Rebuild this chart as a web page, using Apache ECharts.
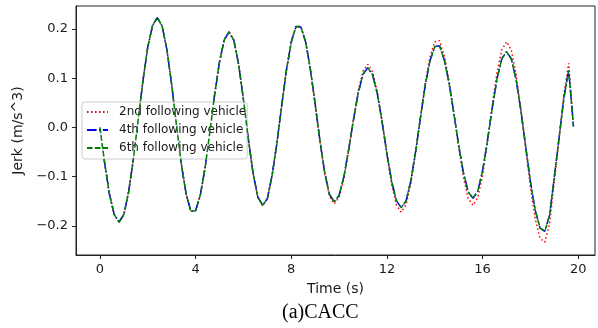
<!DOCTYPE html>
<html>
<head>
<meta charset="utf-8">
<script src="https://cdn.jsdelivr.net/npm/echarts@6/dist/echarts.min.js"></script>
<style>
html,body{margin:0;padding:0;background:#fff;}
#chart{width:598px;height:328px;}
</style>
</head>
<body>
<div id="chart"></div>
<script>
// Time samples (s)
var time = [
  0.0,0.2,0.4,0.6,0.8,1.0,1.2,1.4,1.6,1.8,
  2.0,2.2,2.4,2.6,2.8,3.0,3.2,3.4,3.6,3.8,
  4.0,4.2,4.4,4.6,4.8,5.0,5.2,5.4,5.6,5.8,
  6.0,6.2,6.4,6.6,6.8,7.0,7.2,7.4,7.6,7.8,
  8.0,8.2,8.4,8.6,8.8,9.0,9.2,9.4,9.6,9.8,
  10.0,10.2,10.4,10.6,10.8,11.0,11.2,11.4,11.6,11.8,
  12.0,12.2,12.4,12.6,12.8,13.0,13.2,13.4,13.6,13.8,
  14.0,14.2,14.4,14.6,14.8,15.0,15.2,15.4,15.6,15.8,
  16.0,16.2,16.4,16.6,16.8,17.0,17.2,17.4,17.6,17.8,
  18.0,18.2,18.4,18.6,18.8,19.0,19.2,19.4,19.6,19.8
];
// 2nd following vehicle jerk (m/s^3)
var jerk2 = [
  0.000,-0.073,-0.136,-0.177,-0.192,-0.177,-0.131,-0.064,0.016,0.095,
  0.163,0.207,0.223,0.206,0.158,0.087,0.005,-0.073,-0.134,-0.170,
  -0.169,-0.137,-0.081,-0.008,0.068,0.133,0.178,0.194,0.177,0.128,
  0.057,-0.021,-0.092,-0.141,-0.159,-0.145,-0.097,-0.032,0.044,0.117,
  0.174,0.206,0.205,0.175,0.118,0.047,-0.028,-0.095,-0.140,-0.155,
  -0.142,-0.104,-0.047,0.016,0.074,0.114,0.128,0.113,0.072,0.012,
  -0.056,-0.117,-0.158,-0.172,-0.157,-0.114,-0.052,0.020,0.090,0.143,
  0.174,0.176,0.145,0.094,0.030,-0.039,-0.101,-0.144,-0.158,-0.142,
  -0.098,-0.031,0.043,0.111,0.157,0.174,0.157,0.108,0.038,-0.042,
  -0.121,-0.185,-0.225,-0.233,-0.196,-0.110,-0.022,0.067,0.130,0.002
];
// 4th following vehicle jerk (m/s^3)
var jerk4 = [
  0.000,-0.073,-0.136,-0.177,-0.192,-0.177,-0.131,-0.064,0.016,0.095,
  0.163,0.207,0.223,0.206,0.158,0.087,0.005,-0.073,-0.134,-0.170,
  -0.169,-0.137,-0.081,-0.008,0.068,0.133,0.178,0.194,0.177,0.128,
  0.057,-0.021,-0.092,-0.141,-0.158,-0.145,-0.097,-0.032,0.044,0.117,
  0.173,0.205,0.204,0.174,0.118,0.047,-0.027,-0.092,-0.136,-0.151,
  -0.138,-0.100,-0.045,0.015,0.070,0.108,0.121,0.107,0.068,0.011,
  -0.053,-0.110,-0.149,-0.163,-0.149,-0.108,-0.049,0.019,0.085,0.135,
  0.164,0.166,0.137,0.089,0.028,-0.036,-0.092,-0.131,-0.144,-0.129,
  -0.088,-0.028,0.038,0.098,0.139,0.154,0.139,0.097,0.035,-0.038,
  -0.110,-0.168,-0.204,-0.211,-0.178,-0.100,-0.020,0.060,0.116,0.002
];
// 6th following vehicle jerk (m/s^3)
var jerk6 = [
  0.000,-0.073,-0.136,-0.177,-0.192,-0.177,-0.131,-0.064,0.016,0.095,
  0.163,0.207,0.223,0.206,0.158,0.087,0.005,-0.073,-0.134,-0.170,
  -0.169,-0.137,-0.081,-0.008,0.068,0.133,0.178,0.194,0.177,0.128,
  0.057,-0.021,-0.092,-0.141,-0.158,-0.145,-0.097,-0.032,0.044,0.117,
  0.173,0.205,0.204,0.174,0.118,0.047,-0.027,-0.092,-0.136,-0.151,
  -0.138,-0.100,-0.045,0.015,0.070,0.108,0.121,0.107,0.068,0.011,
  -0.053,-0.110,-0.149,-0.163,-0.149,-0.108,-0.049,0.019,0.085,0.135,
  0.164,0.166,0.137,0.089,0.028,-0.036,-0.092,-0.131,-0.144,-0.129,
  -0.088,-0.028,0.038,0.098,0.139,0.154,0.139,0.097,0.035,-0.038,
  -0.110,-0.168,-0.204,-0.211,-0.178,-0.100,-0.020,0.060,0.116,0.002
];
var seriesNames = ['2nd following vehicle','4th following vehicle','6th following vehicle'];
var xTicks = [0,4,8,12,16,20];
var yTicks = [-0.2,-0.1,0.0,0.1,0.2];
var xLabel = 'Time (s)';
var yLabel = 'Jerk (m/s^3)';
var caption = '(a)CACC';

function pairs(ys){ return time.map(function(t,i){ return [t, ys[i]]; }); }

var chart = echarts.init(document.getElementById('chart'), null, {renderer:'canvas'});
var font = 'DejaVu Sans';
chart.setOption({
  animation:false,
  backgroundColor:'#ffffff',
  grid:{left:76, right:3, top:6, bottom:73, show:true, borderColor:'#222', borderWidth:1, backgroundColor:'transparent'},
  xAxis:{
    type:'value', min:-1.0, max:20.7,
    name:xLabel, nameLocation:'middle', nameGap:27,
    nameTextStyle:{fontFamily:font, fontSize:14, color:'#1a1a1a'},
    axisLine:{show:true, onZero:false, lineStyle:{color:'#222', width:1}},
    axisTick:{show:true, length:4, customValues:xTicks, lineStyle:{color:'#222'}},
    axisLabel:{customValues:xTicks, margin:8, fontFamily:font, fontSize:13, color:'#1a1a1a',
      formatter:function(v){ return String(Math.round(v)); }},
    splitLine:{show:false}
  },
  yAxis:{
    type:'value', min:-0.259, max:0.2465,
    name:yLabel, nameLocation:'middle', nameGap:44,
    nameTextStyle:{fontFamily:font, fontSize:14, color:'#1a1a1a'},
    axisLine:{show:true, onZero:false, lineStyle:{color:'#222', width:1}},
    axisTick:{show:true, length:4, customValues:yTicks, lineStyle:{color:'#222'}},
    axisLabel:{customValues:yTicks, margin:8, fontFamily:font, fontSize:13, color:'#1a1a1a',
      formatter:function(v){ var s = Math.abs(v).toFixed(1); return (v < -1e-9 ? '\u2212' : '') + s; }},
    splitLine:{show:false}
  },
  legend:{
    orient:'vertical', left:82, top:102,
    padding:[4,1,5,4], itemGap:6, itemWidth:21, itemHeight:14,
    backgroundColor:'rgba(255,255,255,0.8)', borderColor:'#cccccc', borderWidth:1, borderRadius:3,
    itemStyle:{opacity:0},
    textStyle:{fontFamily:font, fontSize:12, color:'#1a1a1a', padding:[0,0,0,6]},
    data:seriesNames
  },
  series:[
    {name:seriesNames[0], type:'line', data:pairs(jerk2), symbol:'none', z:2,
      lineStyle:{color:'#ff0000', width:1.5, type:[1.5,2.5]}, itemStyle:{color:'#ff0000'}},
    {name:seriesNames[1], type:'line', data:pairs(jerk4), symbol:'none', z:3,
      lineStyle:{color:'#0000ff', width:1.5, type:[9.6,2.4,1.5,2.4]}, itemStyle:{color:'#0000ff'}},
    {name:seriesNames[2], type:'line', data:pairs(jerk6), symbol:'none', z:4,
      lineStyle:{color:'#008000', width:1.5, type:[5.5,2.4]}, itemStyle:{color:'#008000'}}
  ],
  graphic:[{
    type:'text', left:282, top:303,
    style:{text:caption, fontFamily:'Liberation Serif', fontSize:20, fill:'#000'}
  }]
});
</script>
</body>
</html>
